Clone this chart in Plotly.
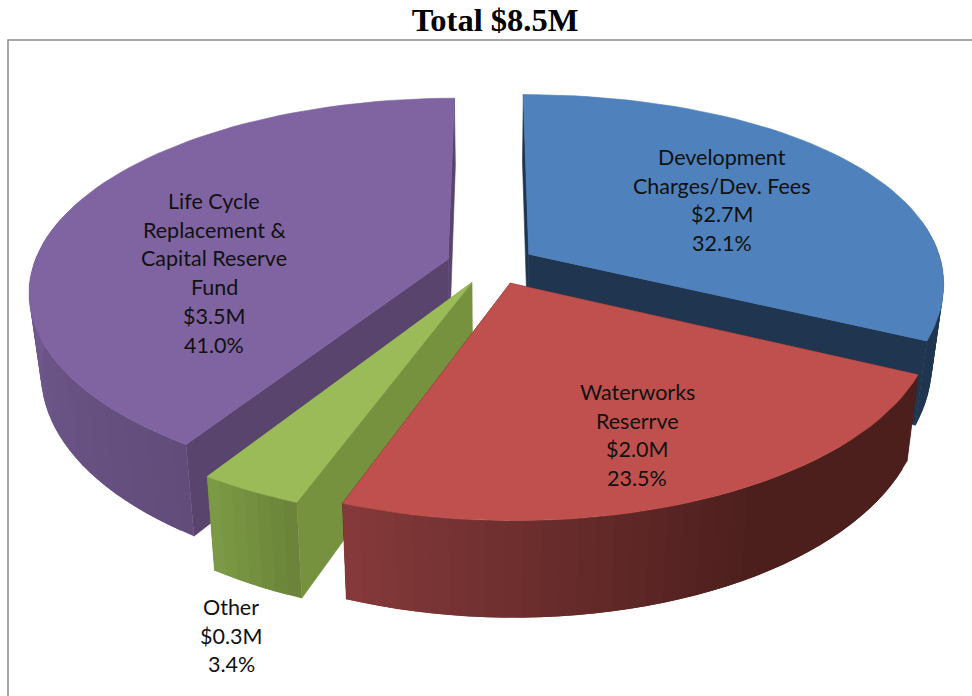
import numpy as np
import plotly.graph_objects as go

# ---- data ----
TITLE = "Total $8.5M"
names = ["Development\nCharges/Dev. Fees", "Waterworks\nReserrve", "Other",
         "Life Cycle\nReplacement &\nCapital Reserve\nFund"]
millions = ["$2.7M", "$2.0M", "$0.3M", "$3.5M"]
percents = [32.1, 23.5, 3.4, 41.0]

# ---- style ----
top_colors = ["#4f81bd", "#c0504d", "#9bbb59", "#8064a2"]
radial_colors = ["#1f3550", "#4a1c1a", "#76923f", "#59446e"]
wall_start = ["#1f3550", "#4c1f1d", "#6b8439", "#614c7a"]   # colour at the slice's first angle
wall_end = ["#1f3550", "#85393a", "#7c9a45", "#8d70b2"]     # colour at its last angle
wall_hold = [0.0, 0.42, 0.0, 0.0]                           # share of the wall kept at the first colour
label_xy = [(722, 157), (637, 392), (231, 607), (214, 201)]
line_step = 28.7

# ---- projection of the pie plane onto the page ----
CX, CY, A, B, P = 491.0, 264.6, 410.0, 190.0, 0.17
EXPLODE = 0.104
DEPTH = 79.0
CONVERGE = 0.026
bulge = [0.024, 0.0, 0.0, 0.013]
nudge = [0.005, 0.007, 0.0, -0.005]
BACK_LIMIT = 0.25   # outer wall further back than this is hidden by the top face


def project(u, v, h=0.0):
    s = 1.0 / (1.0 + P * v)
    x = CX + A * u * s
    y = CY - B * v * s + h * DEPTH * s
    return CX + (x - CX) * (1 - CONVERGE * h), y


def hex2rgb(c):
    return np.array([int(c[i:i + 2], 16) for i in (1, 3, 5)], float)


def mix(c1, c2, t):
    r = hex2rgb(c1) * (1 - t) + hex2rgb(c2) * t
    return "rgb(%d,%d,%d)" % tuple(r.round())


fig = go.Figure()


def poly(xs, ys, color, edge=0.6):
    xs, ys = list(xs), list(ys)
    fig.add_trace(go.Scatter(x=xs + xs[:1], y=ys + ys[:1], mode="lines", fill="toself",
                             fillcolor=color, line=dict(color=color, width=edge),
                             hoverinfo="skip", showlegend=False))


bounds = np.concatenate([[0], np.cumsum(percents)]) / sum(percents) * 2 * np.pi
paint_order = [0, 3, 2, 1]

for i in paint_order:
    t0, t1 = bounds[i], bounds[i + 1]
    mid = (t0 + t1) / 2
    du, dv = EXPLODE * np.sin(mid) + nudge[i], EXPLODE * np.cos(mid)
    th = np.linspace(t0, t1, max(8, int((t1 - t0) * 28)))
    w = np.sin(np.pi * (th - t0) / (t1 - t0)) ** 2
    r = 1 + bulge[i] * w
    u = du + r * np.sin(th)
    v = dv + r * np.cos(th)

    # the two cut faces
    for k in (0, -1):
        xa, ya = project(du, dv, 0)
        xb, yb = project(u[k], v[k], 0)
        xc, yc = project(u[k], v[k], 1)
        xd, yd = project(du, dv, 1)
        poly([xa, xb, xc, xd], [ya, yb, yc, yd], radial_colors[i])

    # the outer wall, in strips for the shading; each strip overlaps the next so no seams show
    xt, yt = project(u, v, 0)
    xb, yb = project(u, v, 1)
    n = len(th)
    for k in range(n - 1):
        if v[k] > BACK_LIMIT:
            continue
        frac = k / max(1, n - 2)
        frac = max(0.0, (frac - wall_hold[i]) / (1 - wall_hold[i]))
        e = min(k + 3, n)
        poly(np.r_[xt[k:e], xb[k:e][::-1]], np.r_[yt[k:e], yb[k:e][::-1]],
             mix(wall_start[i], wall_end[i], frac), edge=0)

    # top face
    xc, yc = project(du, dv, 0)
    poly(np.r_[xc, xt], np.r_[yc, yt], top_colors[i])

annotations = []
for i in range(4):
    lines = names[i].split("\n") + [millions[i], "%.1f%%" % percents[i]]
    lx, ly = label_xy[i]
    for n, text in enumerate(lines):
        annotations.append(dict(x=lx, y=ly + n * line_step, xref="x", yref="y", text=text,
                                showarrow=False, xanchor="center", yanchor="middle",
                                font=dict(family="Lato", size=21.5, color="#111111")))

fig.update_layout(
    width=972, height=696, margin=dict(l=0, r=0, t=0, b=0),
    paper_bgcolor="white", plot_bgcolor="white", showlegend=False,
    title=dict(text="<b>%s</b>" % TITLE, x=495 / 972, xanchor="center",
               y=1 - 20 / 696, yanchor="middle",
               font=dict(family="Liberation Serif", size=32.5, color="black")),
    xaxis=dict(range=[0, 972], visible=False, fixedrange=True),
    yaxis=dict(range=[696, 0], visible=False, fixedrange=True),
    annotations=annotations,
    shapes=[dict(type="rect", xref="x", yref="y", x0=8, y0=40, x1=990, y1=720,
                 line=dict(color="#8c8c8c", width=1.5), layer="below")],
)
fig.write_html("out.html", config={"displayModeBar": False},
               post_script="document.body.style.margin='0';")
